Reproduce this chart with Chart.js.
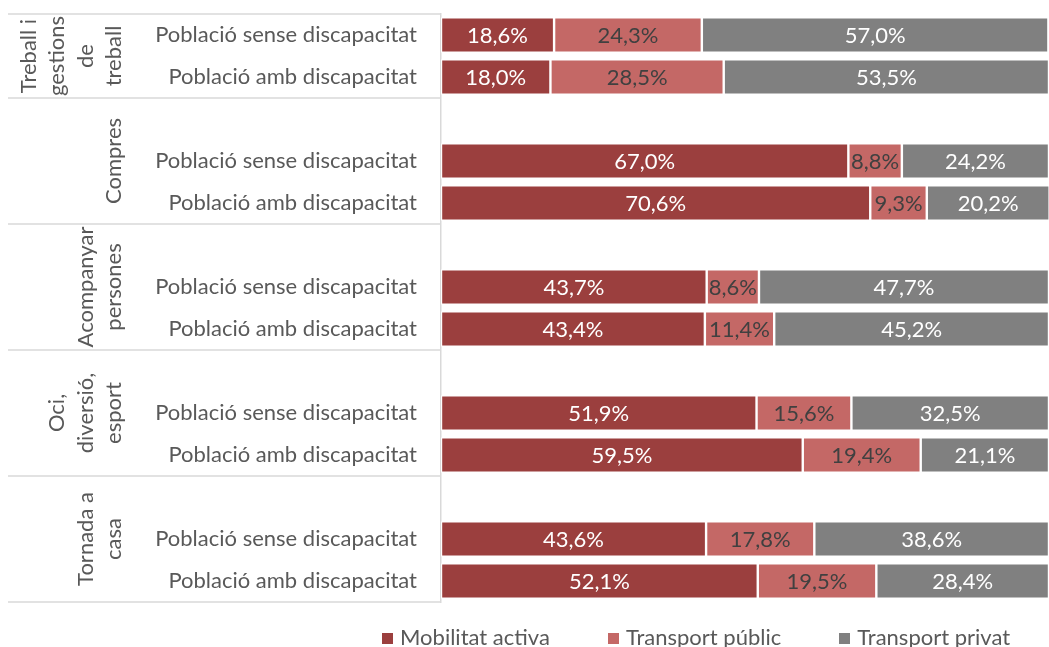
<!DOCTYPE html>
<html lang="ca">
<head>
<meta charset="utf-8">
<script src="https://cdn.jsdelivr.net/npm/chart.js@4/dist/chart.umd.min.js"></script>
<style>
  html, body { margin: 0; padding: 0; background: #fff; overflow: hidden; }
  #wrap { position: relative; width: 1049px; height: 647px; overflow: hidden; }
  #legend { position: absolute; left: 382px; top: 626px; display: flex; font-family: Lato, sans-serif; font-size: 22px; line-height: 22px; color: #595959; white-space: nowrap; }
  #legend .item { display: flex; align-items: center; margin-right: 58px; }
  #legend .box { width: 11px; height: 11px; margin-right: 7px; margin-top: 2px; }
</style>
</head>
<body>
<div id="wrap">
  <canvas id="c" width="1049" height="647"></canvas>
  <div id="legend"></div>
</div>
<script>
// Motiu del desplaçament: grups i subcategories (buit = separació entre grups)
const groupLines = [
  ['Treball i', 'gestions', 'de', 'treball'],
  ['Compres'],
  ['Acompanyar', 'persones'],
  ['Oci,', 'diversió,', 'esport'],
  ['Tornada a', 'casa']
];
const groupSizes = [2, 3, 3, 3, 3];

const categories = [
  'Població sense discapacitat', 'Població amb discapacitat',
  '', 'Població sense discapacitat', 'Població amb discapacitat',
  '', 'Població sense discapacitat', 'Població amb discapacitat',
  '', 'Població sense discapacitat', 'Població amb discapacitat',
  '', 'Població sense discapacitat', 'Població amb discapacitat'
];

const seriesNames = ['Mobilitat activa', 'Transport públic', 'Transport privat'];
const mobilitatActiva = [18.6, 18.0, null, 67.0, 70.6, null, 43.7, 43.4, null, 51.9, 59.5, null, 43.6, 52.1];
const transportPublic = [24.3, 28.5, null, 8.8, 9.3, null, 8.6, 11.4, null, 15.6, 19.4, null, 17.8, 19.5];
const transportPrivat = [57.0, 53.5, null, 24.2, 20.2, null, 47.7, 45.2, null, 32.5, 21.1, null, 38.6, 28.4];

const seriesColors = ['#9b3f3e', '#c46866', '#808080'];
const labelColors = ['#ffffff', '#404040', '#ffffff'];
const FONT = 'Lato, sans-serif';
const FONT_SIZE = 22;

const fmt = v => v.toFixed(1).replace('.', ',') + '%';

// Etiquetes de valor centrades a cada segment
const valueLabels = {
  id: 'valueLabels',
  afterDatasetsDraw(chart) {
    const ctx = chart.ctx;
    ctx.save();
    ctx.font = FONT_SIZE + 'px ' + FONT;
    ctx.textAlign = 'center';
    ctx.textBaseline = 'middle';
    chart.data.datasets.forEach((ds, di) => {
      const meta = chart.getDatasetMeta(di);
      meta.data.forEach((el, i) => {
        const v = ds.data[i];
        if (v === null || v === undefined) return;
        ctx.fillStyle = labelColors[di];
        ctx.fillText(fmt(v), (el.x + el.base) / 2, el.y + 1);
      });
    });
    ctx.restore();
  }
};

// Eix de categories de dos nivells: línies separadores i noms de grup girats
const groupAxis = {
  id: 'groupAxis',
  afterDraw(chart) {
    const ctx = chart.ctx;
    const y = chart.scales.y;
    const left = 8, right = chart.chartArea.left - 1;
    ctx.save();
    ctx.strokeStyle = '#d9d9d9';
    ctx.lineWidth = 1.5;
    let start = 0;
    const edges = [y.getPixelForValue(-0.5)];
    groupSizes.forEach(n => { start += n; edges.push(y.getPixelForValue(start - 0.5)); });
    edges.forEach(py => {
      ctx.beginPath();
      ctx.moveTo(left, Math.round(py));
      ctx.lineTo(right, Math.round(py));
      ctx.stroke();
    });
    ctx.fillStyle = '#595959';
    ctx.font = FONT_SIZE + 'px ' + FONT;
    ctx.textAlign = 'center';
    ctx.textBaseline = 'middle';
    const lastX = 114, step = 28.5;
    groupLines.forEach((lines, g) => {
      const cy = (edges[g] + edges[g + 1]) / 2;
      lines.forEach((txt, k) => {
        const cx = lastX - (lines.length - 1 - k) * step;
        ctx.save();
        ctx.translate(cx, cy);
        ctx.rotate(-Math.PI / 2);
        ctx.fillText(txt, 0, 0);
        ctx.restore();
      });
    });
    ctx.restore();
  }
};

const datasets = [mobilitatActiva, transportPublic, transportPrivat].map((d, i) => ({
  label: seriesNames[i],
  data: d,
  backgroundColor: seriesColors[i],
  borderColor: '#ffffff',
  borderWidth: 1.2,
  borderSkipped: false,
  barPercentage: 0.84,
  categoryPercentage: 1
}));

const chart = new Chart(document.getElementById('c'), {
  type: 'bar',
  data: { labels: categories, datasets },
  options: {
    indexAxis: 'y',
    responsive: false,
    animation: false,
    devicePixelRatio: 1,
    layout: { padding: { top: 14, bottom: 45, right: 0, left: 0 } },
    plugins: { legend: { display: false }, tooltip: { enabled: false } },
    scales: {
      x: { stacked: true, min: 0, max: 100, display: false },
      y: {
        stacked: true,
        afterFit(scale) {
          scale.width = 441;
          scale.paddingTop = 0;
          scale.paddingBottom = 0;
        },
        grid: { display: false, drawTicks: false },
        border: { display: true, color: '#d9d9d9', width: 1.5 },
        ticks: { padding: 24, color: '#595959', font: { family: FONT, size: FONT_SIZE }, autoSkip: false }
      }
    }
  },
  plugins: [valueLabels, groupAxis]
});

// Llegenda a partir de les sèries del gràfic
const legend = document.getElementById('legend');
chart.data.datasets.forEach(ds => {
  const item = document.createElement('div');
  item.className = 'item';
  const box = document.createElement('span');
  box.className = 'box';
  box.style.background = ds.backgroundColor;
  const txt = document.createElement('span');
  txt.textContent = ds.label;
  item.appendChild(box);
  item.appendChild(txt);
  legend.appendChild(item);
});
</script>
</body>
</html>
